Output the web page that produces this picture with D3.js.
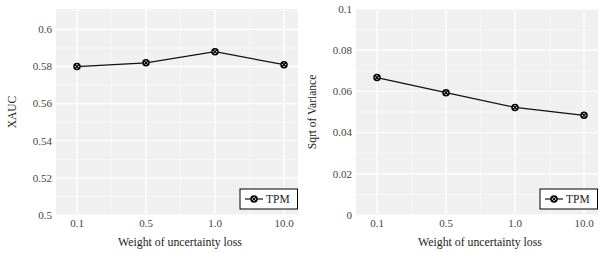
<!DOCTYPE html>
<html>
<head>
<meta charset="utf-8">
<script src="https://cdn.jsdelivr.net/npm/d3@7"></script>
<style>
  body { margin: 0; background: #fff; }
</style>
</head>
<body>
<svg id="canvas" width="600" height="253" font-family="'Liberation Serif', 'DejaVu Serif', serif"></svg>
<script>
// x categories shared by both panels
const weights = ['0.1', '0.5', '1.0', '10.0']

// left panel
const xaucValues = [0.580, 0.582, 0.588, 0.581]
const xaucTicks = [0.5, 0.52, 0.54, 0.56, 0.58, 0.6]

// right panel
const varValues = [0.0667, 0.0594, 0.0522, 0.0484]
const varTicks = [0, 0.02, 0.04, 0.06, 0.08, 0.1]

const seriesName = 'TPM'
const xTitle = 'Weight of uncertainty loss'

let canvas = d3.select('#canvas')

function drawPanel(left, values, ticks, yDomain, yTitle, fmt) {
    let top = 9, bottom = 215, right = left + 242

    let g = canvas.append('g')

    let xScale = d3.scaleLinear()
                    .domain([0, weights.length - 1])
                    .range([left + 21, left + 228])

    let yScale = d3.scaleLinear()
                    .domain(yDomain)
                    .range([bottom, top])

    g.append('rect')
        .attr('x', left)
        .attr('y', top)
        .attr('width', right - left)
        .attr('height', bottom - top)
        .attr('fill', '#f0f0f0')

    // minor grid
    let step = ticks[1] - ticks[0]
    let minorY = ticks.map((t) => t + step / 2).filter((t) => yScale(t) > top)
    g.selectAll('.minor-y')
        .data(minorY)
        .enter()
        .append('line')
        .attr('x1', left).attr('x2', right)
        .attr('y1', (d) => yScale(d)).attr('y2', (d) => yScale(d))
        .attr('stroke', '#f8f8f8')
        .attr('stroke-width', 0.8)

    let minorX = [0.5, 1.5, 2.5]
    g.selectAll('.minor-x')
        .data(minorX)
        .enter()
        .append('line')
        .attr('x1', (d) => xScale(d)).attr('x2', (d) => xScale(d))
        .attr('y1', top).attr('y2', bottom)
        .attr('stroke', '#f8f8f8')
        .attr('stroke-width', 0.8)

    // major grid
    g.selectAll('.major-y')
        .data(ticks)
        .enter()
        .append('line')
        .attr('x1', left).attr('x2', right)
        .attr('y1', (d) => yScale(d)).attr('y2', (d) => yScale(d))
        .attr('stroke', '#ffffff')
        .attr('stroke-width', 1.2)

    g.selectAll('.major-x')
        .data(weights)
        .enter()
        .append('line')
        .attr('x1', (d, i) => xScale(i)).attr('x2', (d, i) => xScale(i))
        .attr('y1', top).attr('y2', bottom)
        .attr('stroke', '#ffffff')
        .attr('stroke-width', 1.2)

    // tick labels
    g.selectAll('.ytick')
        .data(ticks)
        .enter()
        .append('text')
        .attr('x', left - 4)
        .attr('y', (d) => yScale(d))
        .attr('dy', '0.35em')
        .attr('text-anchor', 'end')
        .attr('font-size', 11)
        .attr('fill', '#444')
        .text((d) => fmt(d))

    g.selectAll('.xtick')
        .data(weights)
        .enter()
        .append('text')
        .attr('x', (d, i) => xScale(i))
        .attr('y', 227)
        .attr('text-anchor', 'middle')
        .attr('font-size', 11)
        .attr('fill', '#444')
        .text((d) => d)

    // axis titles
    g.append('text')
        .attr('x', (left + right) / 2 + 3)
        .attr('y', 246)
        .attr('text-anchor', 'middle')
        .attr('font-size', 11.8)
        .attr('fill', '#222')
        .text(xTitle)

    g.append('text')
        .attr('transform', 'translate(' + (left - 40) + ',' + ((top + bottom) / 2) + ') rotate(-90)')
        .attr('text-anchor', 'middle')
        .attr('font-size', 11.5)
        .attr('fill', '#222')
        .text(yTitle)

    // series
    let line = d3.line()
                .x((d, i) => xScale(i))
                .y((d) => yScale(d))

    g.append('path')
        .datum(values)
        .attr('d', line)
        .attr('fill', 'none')
        .attr('stroke', '#111')
        .attr('stroke-width', 1.2)

    let marker = (sel) => {
        sel.append('circle')
            .attr('r', 3)
            .attr('fill', '#fff')
            .attr('stroke', '#000')
            .attr('stroke-width', 1.5)
        sel.append('path')
            .attr('d', 'M-2.1,-2.1L2.1,2.1M-2.1,2.1L2.1,-2.1')
            .attr('stroke', '#000')
            .attr('stroke-width', 1.3)
    }

    g.selectAll('.pt')
        .data(values)
        .enter()
        .append('g')
        .attr('transform', (d, i) => 'translate(' + xScale(i) + ',' + yScale(d) + ')')
        .call(marker)

    // legend
    let lg = g.append('g').attr('transform', 'translate(' + (right - 58) + ',189)')
    lg.append('rect')
        .attr('width', 57.5)
        .attr('height', 20)
        .attr('fill', '#fff')
        .attr('stroke', '#000')
        .attr('stroke-width', 1)
    lg.append('line')
        .attr('x1', 5).attr('x2', 23)
        .attr('y1', 10).attr('y2', 10)
        .attr('stroke', '#111')
        .attr('stroke-width', 1.2)
    lg.append('g')
        .attr('transform', 'translate(14,10)')
        .call(marker)
    lg.append('text')
        .attr('x', 26)
        .attr('y', 10)
        .attr('dy', '0.35em')
        .attr('font-size', 11.5)
        .attr('fill', '#222')
        .text(seriesName)
}

drawPanel(56, xaucValues, xaucTicks, [0.5, 0.611], 'XAUC', (d) => d3.format('')(+d.toFixed(2)))
drawPanel(356, varValues, varTicks, [0, 0.1], 'Sqrt of Variance', (d) => d3.format('')(+d.toFixed(2)))
</script>
</body>
</html>
